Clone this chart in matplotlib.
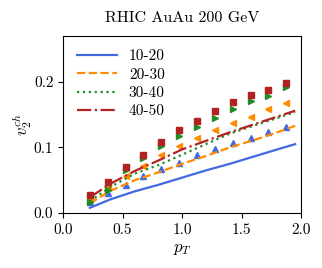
import matplotlib
matplotlib.use("Agg")
import matplotlib.pyplot as plt
import numpy as np

plt.rcParams['font.family'] = 'serif'
plt.rcParams['font.serif'] = ['cmr10']
plt.rcParams['mathtext.fontset'] = 'cm'
plt.rcParams['axes.formatter.use_mathtext'] = True
plt.rcParams['axes.unicode_minus'] = False

labels = ['10-20', '20-30', '30-40', '40-50']
colors = ['royalblue', 'darkorange', 'forestgreen', 'firebrick']
styles = ['-', '--', ':', '-.']
markers = ['^', '<', '>', 's']

pt_line = [0.225, 0.4, 0.6, 0.8, 1.0, 1.2, 1.4, 1.6, 1.8, 1.95]
line_10_20 = [0.008, 0.021, 0.033, 0.043, 0.054, 0.065, 0.075, 0.086, 0.097, 0.105]
line_20_30 = [0.015, 0.034, 0.050, 0.062, 0.075, 0.087, 0.100, 0.111, 0.123, 0.133]
line_30_40 = [0.018, 0.040, 0.060, 0.073, 0.089, 0.105, 0.121, 0.133, 0.145, 0.154]
line_40_50 = [0.024, 0.045, 0.064, 0.080, 0.097, 0.110, 0.123, 0.135, 0.147, 0.156]

pt_data = [0.225, 0.375, 0.525, 0.675, 0.825, 0.975, 1.125, 1.275, 1.425, 1.575, 1.725, 1.875]
data_10_20 = [0.017, 0.030, 0.043, 0.056, 0.067, 0.077, 0.088, 0.098, 0.107, 0.115, 0.123, 0.131]
data_20_30 = [0.022, 0.040, 0.056, 0.072, 0.088, 0.102, 0.115, 0.127, 0.138, 0.147, 0.158, 0.168]
data_30_40 = [0.017, 0.035, 0.065, 0.084, 0.102, 0.118, 0.131, 0.145, 0.158, 0.171, 0.179, 0.192]
data_40_50 = [0.027, 0.047, 0.070, 0.089, 0.109, 0.126, 0.140, 0.156, 0.169, 0.180, 0.187, 0.198]

lines = [line_10_20, line_20_30, line_30_40, line_40_50]
datas = [data_10_20, data_20_30, data_30_40, data_40_50]

fig = plt.figure(figsize=(3.22, 2.68), dpi=100)
ax = fig.add_axes([0.196, 0.205, 0.739, 0.661])

for lab, c, ls, m, ly, dy in zip(labels, colors, styles, markers, lines, datas):
    ax.plot(pt_line, ly, color=c, ls=ls, lw=1.6, label=lab)
    ax.plot(pt_data, dy, color=c, ls='none', marker=m, ms=5)

ax.set_xlim(0, 2.0)
ax.set_ylim(0, 0.27)
ax.set_xticks([0.0, 0.5, 1.0, 1.5, 2.0])
ax.set_yticks([0.0, 0.1, 0.2])
ax.set_xticklabels(['0.0', '0.5', '1.0', '1.5', '2.0'])
ax.set_yticklabels(['0.0', '0.1', '0.2'])
ax.tick_params(labelsize=11)
ax.set_xlabel(r'$p_T$', fontsize=12)
ax.set_ylabel(r'$v_2^{ch}$', fontsize=12, labelpad=0)
ax.set_title('RHIC AuAu 200 GeV', fontsize=11.5, pad=10)
ax.legend(loc='upper left', frameon=False, fontsize=11, handlelength=2.6,
          labelspacing=0.3, borderaxespad=0.5)

fig.savefig('out.png', dpi=100)
